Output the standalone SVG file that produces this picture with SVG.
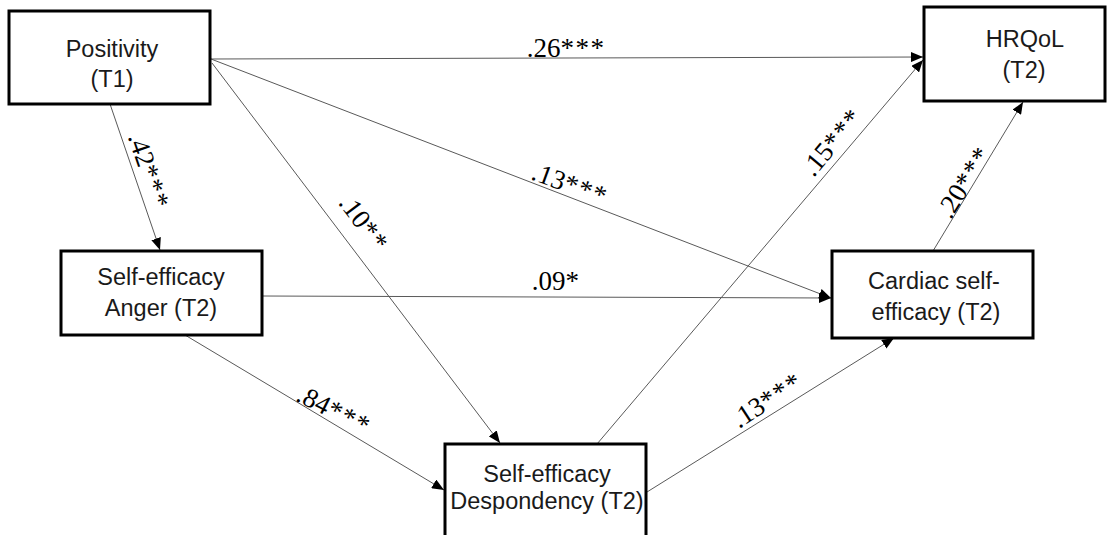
<svg xmlns="http://www.w3.org/2000/svg" width="1117" height="535" viewBox="0 0 1117 535">
  <style>
    .box { fill: #ffffff; stroke: #000000; stroke-width: 3; }
    .node-text { font-family: "Liberation Sans", Arial, sans-serif; font-size: 23.5px; fill: #1a1a1a; text-anchor: middle; }
    .edge { stroke: #595959; stroke-width: 1; fill: none; marker-end: url(#arrow); }
    .coef { font-family: "Liberation Serif", "Times New Roman", serif; font-size: 27px; fill: #000000; text-anchor: middle; }
    .star { letter-spacing: 1.5px; }
  </style>
  <defs>
    <marker id="arrow" markerUnits="userSpaceOnUse" markerWidth="12" markerHeight="10" viewBox="0 0 12 10" refX="12" refY="5" orient="auto">
      <path d="M0,0 L12,5 L0,10 Z" fill="#000000"/>
    </marker>
  </defs>
  <rect width="1117" height="535" fill="#ffffff"/>

  <!-- paths between the constructs -->
  <g id="connectors">
    <line class="edge" x1="211" y1="59" x2="923" y2="57"/>
    <line class="edge" x1="211" y1="59" x2="831" y2="298"/>
    <line class="edge" x1="212" y1="63" x2="500" y2="443"/>
    <line class="edge" x1="110" y1="104" x2="160" y2="250"/>
    <line class="edge" x1="262" y1="296" x2="831" y2="298"/>
    <line class="edge" x1="185" y1="335" x2="444" y2="490"/>
    <line class="edge" x1="647" y1="492" x2="894" y2="338"/>
    <line class="edge" x1="597" y1="444" x2="923" y2="60"/>
    <line class="edge" x1="933" y1="251" x2="1023" y2="102"/>
  </g>

  <!-- path coefficients -->
  <g id="coefficients">
    <text class="coef" transform="translate(566,48)" y="9">.26<tspan class="star">***</tspan></text>
    <text class="coef" transform="translate(570,184) rotate(20)" y="9">.13<tspan class="star">***</tspan></text>
    <text class="coef" transform="translate(364,223) rotate(53)" y="9">.10<tspan class="star">**</tspan></text>
    <text class="coef" transform="translate(149,171) rotate(71)" y="9">.42<tspan class="star">***</tspan></text>
    <text class="coef" transform="translate(556,281)" y="9">.09<tspan class="star">*</tspan></text>
    <text class="coef" transform="translate(334,410) rotate(27)" y="9">.84<tspan class="star">***</tspan></text>
    <text class="coef" transform="translate(767,400) rotate(-33)" y="9">.13<tspan class="star">***</tspan></text>
    <text class="coef" transform="translate(832,142) rotate(-50)" y="9">.15<tspan class="star">***</tspan></text>
    <text class="coef" transform="translate(964,182) rotate(-58)" y="9">.20<tspan class="star">***</tspan></text>
  </g>

  <g id="positivity">
    <rect class="box" x="9" y="11" width="201" height="93"/>
    <text class="node-text" x="112" y="57">Positivity</text>
    <text class="node-text" x="112" y="87">(T1)</text>
  </g>

  <g id="hrqol">
    <rect class="box" x="924" y="7" width="181" height="94"/>
    <text class="node-text" x="1025" y="47">HRQoL</text>
    <text class="node-text" x="1024" y="78">(T2)</text>
  </g>

  <g id="self-efficacy-anger">
    <rect class="box" x="61" y="251" width="201" height="84"/>
    <text class="node-text" x="161" y="285">Self-efficacy</text>
    <text class="node-text" x="161" y="316">Anger (T2)</text>
  </g>

  <g id="cardiac-self-efficacy">
    <rect class="box" x="832" y="251" width="201" height="87"/>
    <text class="node-text" x="934" y="289">Cardiac self-</text>
    <text class="node-text" x="936" y="320">efficacy (T2)</text>
  </g>

  <g id="self-efficacy-despondency">
    <rect class="box" x="445" y="444" width="201" height="100"/>
    <text class="node-text" x="547" y="482">Self-efficacy</text>
    <text class="node-text" x="547" y="509">Despondency (T2)</text>
  </g>
</svg>
